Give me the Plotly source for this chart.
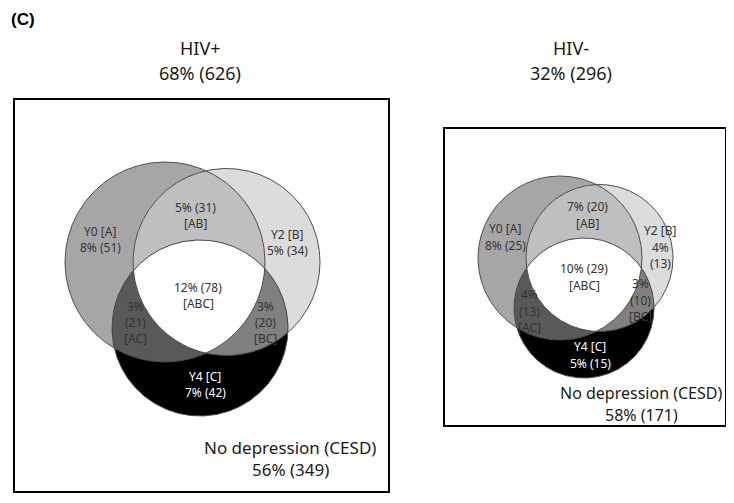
import numpy as np
import plotly.graph_objects as go

# ---------------- data ----------------
panel_names = ["HIV+", "HIV-"]
panel_pct = [68, 32]
panel_n = [626, 296]

region_keys = ["A", "B", "C", "AB", "AC", "BC", "ABC"]
hiv_pos_pct = [8, 5, 7, 5, 3, 3, 12]
hiv_pos_n = [51, 34, 42, 31, 21, 20, 78]
hiv_neg_pct = [8, 4, 5, 7, 4, 3, 10]
hiv_neg_n = [25, 13, 15, 20, 13, 10, 29]

no_dep_label = "No depression (CESD)"
no_dep_pct = [56, 58]
no_dep_n = [349, 171]

set_names = {"A": "Y0", "B": "Y2", "C": "Y4"}

# ---------------- layout / geometry (page pixel space) ----------------
W, H = 734, 503
OFF = 8  # default body margin of the html page
FONT = "Noto Sans"

panels = [
    dict(
        pct=hiv_pos_pct, n=hiv_pos_n,
        box=(14, 99, 389, 492),
        title_x=200, title_y=(48, 73),
        circles={"A": (165, 262, 100), "B": (226.5, 262, 93.5), "C": (200, 328, 88)},
        label_pos={"A": (100, 239), "AB": (195, 215), "B": (287, 242), "ABC": (198, 295),
                   "AC": (135, 322), "BC": (265, 322), "C": (205, 384)},
        split={"A": 2, "B": 2, "C": 2, "AB": 2, "ABC": 2, "AC": 3, "BC": 3},
        gap=16,
        nd_pos=(290, 447, 469), nd_size=17,
    ),
    dict(
        pct=hiv_neg_pct, n=hiv_neg_n,
        box=(444, 128, 726, 426),
        title_x=571, title_y=(48, 73),
        circles={"A": (560, 258, 82), "B": (599.5, 258, 73.5), "C": (584, 308, 70)},
        label_pos={"A": (505, 237), "AB": (587, 215), "B": (660, 247), "ABC": (584, 277),
                   "AC": (529, 311), "BC": (640, 300), "C": (590, 355)},
        split={"A": 2, "B": 3, "C": 2, "AB": 2, "ABC": 2, "AC": 3, "BC": 3},
        gap=16.5,
        nd_pos=(641, 393, 415), nd_size=16,
    ),
]

region_colors = {"A": "#a6a6a6", "B": "#dcdcdc", "C": "#000000", "AB": "#bfbfbf",
                 "AC": "#595959", "BC": "#808080", "ABC": "#ffffff"}


def circle_pts(cx, cy, r, n=720):
    t = np.linspace(0, 2 * np.pi, n, endpoint=False)
    return cx + r * np.cos(t), cy + r * np.sin(t)


def intersection_poly(circs):
    xs, ys = [], []
    for i, (cx, cy, r) in enumerate(circs):
        px, py = circle_pts(cx, cy, r, 1440)
        keep = np.ones_like(px, dtype=bool)
        for j, (ox, oy, orr) in enumerate(circs):
            if j != i:
                keep &= (px - ox) ** 2 + (py - oy) ** 2 <= orr ** 2 + 1e-6
        xs.append(px[keep]); ys.append(py[keep])
    xs = np.concatenate(xs); ys = np.concatenate(ys)
    mx, my = xs.mean(), ys.mean()
    order = np.argsort(np.arctan2(ys - my, xs - mx))
    xs, ys = xs[order], ys[order]
    return np.append(xs, xs[0]), np.append(ys, ys[0])


def label_lines(key, pct, n, nsplit):
    if key in set_names:
        head = f"{set_names[key]} [{key}]"
        if nsplit == 3:
            return [head, f"{pct}%", f"({n})"]
        return [head, f"{pct}% ({n})"]
    if nsplit == 3:
        return [f"{pct}%", f"({n})", f"[{key}]"]
    return [f"{pct}% ({n})", f"[{key}]"]


fig = go.Figure()
annotations = []
shapes = []

for p_i, p in enumerate(panels):
    c = p["circles"]
    layers = [("A", [c["A"]]), ("B", [c["B"]]), ("AB", [c["A"], c["B"]]),
              ("C", [c["C"]]), ("AC", [c["A"], c["C"]]), ("BC", [c["B"], c["C"]]),
              ("ABC", [c["A"], c["B"], c["C"]])]
    for key, cs in layers:
        if len(cs) == 1:
            x, y = circle_pts(*cs[0])
            x = np.append(x, x[0]); y = np.append(y, y[0])
        else:
            x, y = intersection_poly(cs)
        fig.add_trace(go.Scatter(x=x, y=y, mode="lines", fill="toself",
                                 fillcolor=region_colors[key], line=dict(width=0),
                                 hoverinfo="skip", showlegend=False))
    for key in ["A", "B", "C"]:
        x, y = circle_pts(*c[key])
        x = np.append(x, x[0]); y = np.append(y, y[0])
        fig.add_trace(go.Scatter(x=x, y=y, mode="lines",
                                 line=dict(color="#4d4d4d", width=1),
                                 hoverinfo="skip", showlegend=False))

    x0, y0, x1, y1 = p["box"]
    shapes.append(dict(type="rect", xref="x", yref="y", x0=x0, y0=y0, x1=x1, y1=y1,
                       line=dict(color="#000000", width=2), fillcolor="rgba(0,0,0,0)"))

    for txt, yy in zip([panel_names[p_i], f"{panel_pct[p_i]}% ({panel_n[p_i]})"], p["title_y"]):
        annotations.append(dict(x=p["title_x"], y=yy, xref="x", yref="y", text=txt,
                                showarrow=False, xanchor="center", yanchor="middle",
                                font=dict(family=FONT, size=18, color="#1a1a1a")))

    for k_i, key in enumerate(region_keys):
        lines = label_lines(key, p["pct"][k_i], p["n"][k_i], p["split"][key])
        lx, ly = p["label_pos"][key]
        col = "#ffffff" if key == "C" else "#333333"
        nl = len(lines)
        for li, txt in enumerate(lines):
            yy = ly + (li - (nl - 1) / 2) * p["gap"]
            annotations.append(dict(x=lx, y=yy, xref="x", yref="y", text=txt,
                                    showarrow=False, xanchor="center", yanchor="middle",
                                    font=dict(family=FONT, size=12, color=col)))

    ndx, ndy1, ndy2 = p["nd_pos"]
    for txt, yy in zip([no_dep_label, f"{no_dep_pct[p_i]}% ({no_dep_n[p_i]})"], [ndy1, ndy2]):
        annotations.append(dict(x=ndx, y=yy, xref="x", yref="y", text=txt,
                                showarrow=False, xanchor="center", yanchor="middle",
                                font=dict(family=FONT, size=p["nd_size"], color="#1a1a1a")))

annotations.append(dict(x=OFF + 2, y=OFF + 1, xref="x", yref="y", text="<b>(C)</b>",
                        showarrow=False, xanchor="left", yanchor="top", borderpad=0,
                        font=dict(family="Liberation Sans", size=17, color="#000000")))

fig.update_layout(
    width=W - OFF, height=H - OFF,
    margin=dict(l=0, r=0, t=0, b=0),
    paper_bgcolor="white", plot_bgcolor="white",
    xaxis=dict(range=[OFF, W], visible=False, fixedrange=True),
    yaxis=dict(range=[H, OFF], visible=False, fixedrange=True),
    annotations=annotations, shapes=shapes,
    showlegend=False,
)

fig.write_html("out.html")
